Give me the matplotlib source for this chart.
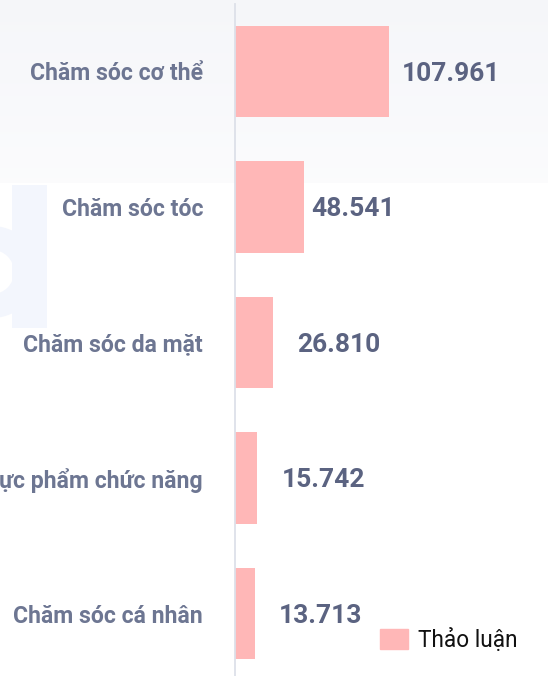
"""
Thảo luận theo ngành hàng chăm sóc cá nhân.
"""
import numpy as np
import matplotlib.pyplot as plt
from matplotlib.patches import Patch, Rectangle, Wedge

plt.rcParams['font.family'] = ['Roboto', 'DejaVu Sans']

categories = ['Chăm sóc cơ thể', 'Chăm sóc tóc', 'Chăm sóc da mặt',
              'Thực phẩm chức năng', 'Chăm sóc cá nhân']
discussions = [107961, 48541, 26810, 15742, 13713]
series_name = 'Thảo luận'

# gap (px) between each bar end and its value label, as in the original
label_gap = [13, 7, 24, 24, 24]

bar_color = '#ffb7b7'
label_color = '#6d7692'
value_color = '#5b6381'
mark_color = '#f3f6fd'

W, H = 548, 676
fig = plt.figure(figsize=(W / 100, H / 100), dpi=100)

# faint header band + watermark logo behind everything
bg = fig.add_axes([0, 0, 1, 1], zorder=-10)
bg.set_axis_off()
grad = np.ones((H, 1, 3))
top = np.array([0.962, 0.966, 0.978])
band = 183
for r in range(band):
    t = r / band
    grad[H - 1 - r, 0] = top * (1 - t) + np.array([0.985, 0.986, 0.992]) * t
bg.imshow(grad, aspect='auto', extent=[0, W, 0, H], origin='lower')
bg.add_patch(Rectangle((12, H - 328), 35, 143, color=mark_color, lw=0))
bg.add_patch(Wedge((-8, H - 272), 46, 0, 360, width=24, color=mark_color,
                   lw=0))
bg.set_xlim(0, W)
bg.set_ylim(0, H)

###############################################################################
# Main bar axes
ax = fig.add_axes([235 / W, 0, 313 / W, 672 / H])
ax.patch.set_alpha(0)
y = np.arange(len(categories))
ax.barh(y, discussions, height=0.672, color=bar_color, zorder=2)
ax.set_xlim(0, 313 / 1.4265 * 1000)
ax.set_ylim(4 + 62.5 / 135.5, -67.5 / 135.5)

for s in ['top', 'right', 'bottom']:
    ax.spines[s].set_visible(False)
ax.spines['left'].set_color('#dde0e9')
ax.spines['left'].set_linewidth(1.3)
ax.set_xticks([])
ax.set_yticks(y)
ax.set_yticklabels(categories, fontsize=16.6, fontweight='bold',
                   color=label_color, va='center_baseline')
ax.tick_params(axis='y', length=0, pad=23)

for yi, v, gap in zip(y, discussions, label_gap):
    ax.annotate(f'{v:,}'.replace(',', '.'), (v, yi), xytext=(gap * 0.72, -1.5),
                textcoords='offset points', ha='left', va='center',
                fontsize=19, fontweight='bold', color=value_color)

ax.legend(handles=[Patch(color=bar_color, label=series_name)],
          loc='center left', bbox_to_anchor=(360 / W, (H - 640) / H),
          bbox_transform=fig.transFigure, frameon=False, fontsize=16.3,
          handlelength=1.2, handleheight=1.0, handletextpad=0.45,
          labelcolor='#111111')

fig.savefig('out.png', dpi=100)
